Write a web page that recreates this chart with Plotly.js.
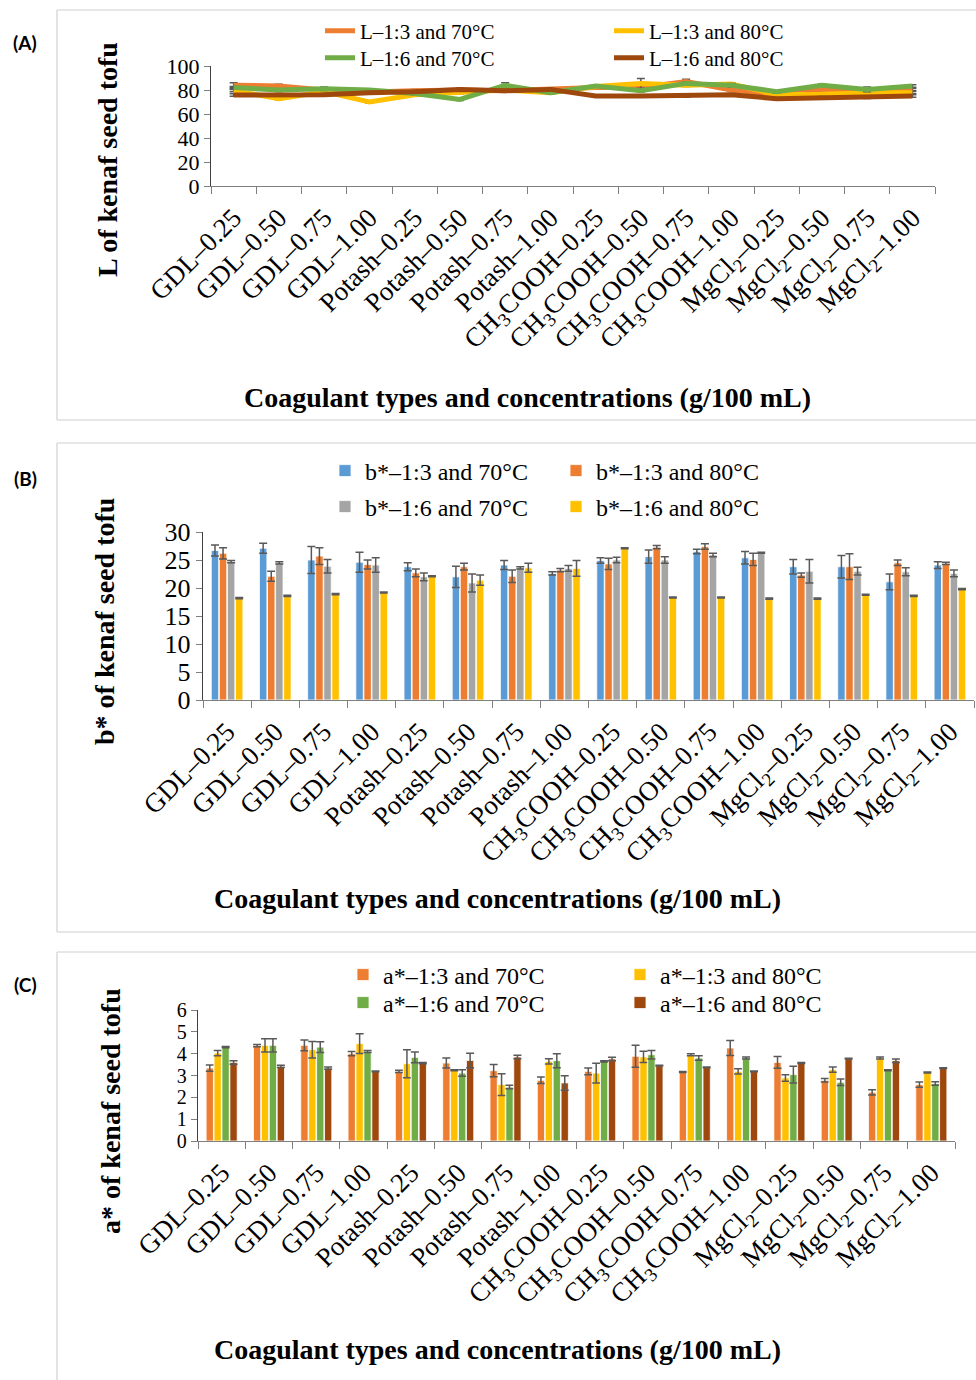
<!DOCTYPE html>
<html>
<head>
<meta charset="utf-8">
<script src="https://cdn.plot.ly/plotly-3.0.1.min.js"></script>
<style>
  html, body { margin: 0; padding: 0; background: #fff; }
  #chart { width: 976px; height: 1380px; }
</style>
</head>
<body>
<div id="chart"></div>
<script>
// Coagulant types and concentrations (g/100 mL)
const categories = [
  'GDL–0.25', 'GDL–0.50', 'GDL–0.75', 'GDL–1.00',
  'Potash–0.25', 'Potash–0.50', 'Potash–0.75', 'Potash–1.00',
  'CH<sub>3</sub>COOH–0.25', 'CH<sub>3</sub>COOH–0.50', 'CH<sub>3</sub>COOH–0.75', 'CH<sub>3</sub>COOH–1.00',
  'MgCl<sub>2</sub>–0.25', 'MgCl<sub>2</sub>–0.50', 'MgCl<sub>2</sub>–0.75', 'MgCl<sub>2</sub>–1.00'
];

// (A) L values
const L_13_70 = [84.0, 83.3, 80.0, 78.4, 79.4, 80.0, 79.4, 80.5, 82.0, 82.0, 87.0, 80.0, 76.0, 80.0, 78.6, 80.5];
const L_13_80 = [79.5, 72.8, 78.6, 70.0, 76.0, 77.8, 80.0, 77.8, 83.0, 85.5, 84.0, 85.0, 76.0, 76.4, 77.8, 77.8];
const L_16_70 = [82.0, 80.0, 81.0, 80.0, 77.0, 72.2, 84.0, 77.8, 83.3, 79.4, 85.5, 84.0, 78.6, 84.0, 80.5, 83.3];
const L_16_80 = [75.8, 76.0, 76.0, 77.8, 78.6, 80.5, 79.4, 80.5, 75.0, 75.0, 75.0, 76.0, 72.8, 73.6, 74.0, 75.0];
const L_13_70_err = [2.0, 1.5, 1.0, 1.0, 1.0, 1.0, 1.0, 1.0, 1.0, 1.0, 2.0, 1.0, 1.0, 1.0, 1.0, 1.0];
const L_13_80_err = [1.0, 1.0, 1.0, 1.0, 1.0, 1.0, 1.0, 1.0, 1.0, 4.0, 1.0, 1.0, 1.0, 1.0, 1.0, 1.0];
const L_16_70_err = [1.0, 1.0, 1.5, 1.0, 1.0, 1.0, 2.0, 1.0, 1.0, 1.0, 1.0, 1.5, 1.0, 1.0, 2.0, 1.0];
const L_16_80_err = [1.0, 1.0, 1.0, 1.0, 1.0, 1.0, 1.0, 1.0, 1.0, 1.0, 1.0, 1.0, 1.0, 1.0, 1.0, 1.0];

// (B) b* values
const B_13_70 = [26.7, 27.1, 25.0, 24.6, 23.8, 22.0, 24.1, 22.6, 24.9, 25.6, 26.5, 25.4, 23.8, 23.8, 21.1, 24.1];
const B_13_80 = [26.2, 22.1, 25.7, 24.2, 22.7, 23.8, 22.1, 23.2, 24.3, 27.3, 27.4, 25.1, 22.3, 23.8, 24.5, 24.4];
const B_16_70 = [24.7, 24.5, 23.9, 24.1, 22.0, 20.9, 23.6, 23.5, 25.0, 25.0, 25.9, 26.3, 23.0, 23.0, 22.9, 22.6];
const B_16_80 = [18.2, 18.6, 18.9, 19.2, 22.1, 21.4, 23.6, 23.5, 27.1, 18.3, 18.3, 18.1, 18.1, 18.8, 18.6, 19.8];
const B_13_70_err = [1.0, 0.9, 2.4, 1.8, 0.7, 1.9, 0.8, 0.3, 0.5, 1.2, 0.4, 1.1, 1.3, 2.0, 1.4, 0.6];
const B_13_80_err = [1.0, 0.9, 1.5, 0.8, 0.7, 0.6, 1.1, 0.3, 1.0, 0.3, 0.5, 1.1, 0.4, 2.3, 0.5, 0.2];
const B_16_70_err = [0.2, 0.2, 1.2, 1.3, 0.7, 1.6, 0.2, 0.5, 0.5, 0.6, 0.3, 0.1, 2.1, 0.7, 0.7, 0.6];
const B_16_80_err = [0.1, 0.1, 0.1, 0.1, 0.1, 0.9, 0.8, 1.4, 0.1, 0.1, 0.1, 0.1, 0.1, 0.1, 0.1, 0.1];

// (C) a* values
const A_13_70 = [3.34, 4.37, 4.38, 4.00, 3.19, 3.57, 3.22, 2.78, 3.19, 3.88, 3.16, 4.26, 3.60, 2.78, 2.23, 2.58];
const A_13_80 = [4.03, 4.38, 4.18, 4.46, 3.54, 3.24, 2.58, 3.65, 3.11, 3.85, 3.95, 3.19, 2.89, 3.27, 3.80, 3.14];
const A_16_70 = [4.30, 4.38, 4.30, 4.10, 3.83, 3.11, 2.47, 3.68, 3.65, 3.95, 3.80, 3.80, 3.04, 2.69, 3.24, 2.63];
const A_16_80 = [3.60, 3.42, 3.34, 3.19, 3.57, 3.69, 3.85, 2.66, 3.76, 3.45, 3.37, 3.19, 3.57, 3.77, 3.68, 3.34];
const A_13_70_err = [0.14, 0.05, 0.25, 0.10, 0.05, 0.23, 0.28, 0.15, 0.15, 0.50, 0.02, 0.34, 0.27, 0.08, 0.12, 0.12];
const A_13_80_err = [0.12, 0.30, 0.38, 0.45, 0.64, 0.02, 0.50, 0.12, 0.45, 0.26, 0.05, 0.12, 0.15, 0.12, 0.05, 0.02];
const A_16_70_err = [0.03, 0.30, 0.25, 0.05, 0.25, 0.15, 0.08, 0.32, 0.03, 0.20, 0.10, 0.05, 0.38, 0.15, 0.02, 0.08];
const A_16_80_err = [0.08, 0.05, 0.05, 0.02, 0.03, 0.33, 0.08, 0.33, 0.08, 0.02, 0.02, 0.02, 0.02, 0.02, 0.08, 0.02];

// Office palette
const C_BLUE = '#5B9BD5', C_ORANGE = '#ED7D31', C_GRAY = '#A5A5A5',
      C_YELLOW = '#FFC000', C_GREEN = '#70AD47', C_BROWN = '#9E480E';

const W = 976, H = 1380;
const px = v => v / W;          // pixel -> paper x
const py = v => 1 - v / H;      // pixel -> paper y

const SERIF = '"Liberation Serif", "Times New Roman", serif';
const ERR_COLOR = '#595959';

function errSpec(arr) {
  return { type: 'data', array: arr, visible: true, color: ERR_COLOR, thickness: 1.5, width: 4 };
}

function lineTrace(name, y, err, color, legend) {
  return {
    type: 'scatter', mode: 'lines', name: name, x: categories, y: y,
    line: { color: color, width: 5 },
    error_y: errSpec(err),
    xaxis: 'x', yaxis: 'y', legend: legend
  };
}

function barTrace(name, y, err, color, ax, legend) {
  return {
    type: 'bar', name: name, x: categories, y: y,
    marker: { color: color, line: { color: '#ffffff', width: 0.8 } },
    error_y: errSpec(err),
    xaxis: 'x' + ax, yaxis: 'y' + ax, legend: legend
  };
}

const data = [
  lineTrace('L–1:3 and 70°C', L_13_70, L_13_70_err, C_ORANGE, 'legend'),
  lineTrace('L–1:3 and 80°C', L_13_80, L_13_80_err, C_YELLOW, 'legend'),
  lineTrace('L–1:6 and 70°C', L_16_70, L_16_70_err, C_GREEN, 'legend2'),
  lineTrace('L–1:6 and 80°C', L_16_80, L_16_80_err, C_BROWN, 'legend2'),

  barTrace('b*–1:3 and 70°C', B_13_70, B_13_70_err, C_BLUE, '2', 'legend3'),
  barTrace('b*–1:3 and 80°C', B_13_80, B_13_80_err, C_ORANGE, '2', 'legend3'),
  barTrace('b*–1:6 and 70°C', B_16_70, B_16_70_err, C_GRAY, '2', 'legend4'),
  barTrace('b*–1:6 and 80°C', B_16_80, B_16_80_err, C_YELLOW, '2', 'legend4'),

  barTrace('a*–1:3 and 70°C', A_13_70, A_13_70_err, C_ORANGE, '3', 'legend5'),
  barTrace('a*–1:3 and 80°C', A_13_80, A_13_80_err, C_YELLOW, '3', 'legend5'),
  barTrace('a*–1:6 and 70°C', A_16_70, A_16_70_err, C_GREEN, '3', 'legend6'),
  barTrace('a*–1:6 and 80°C', A_16_80, A_16_80_err, C_BROWN, '3', 'legend6')
];

function xAxis(domain, anchor) {
  return {
    domain: domain, anchor: anchor, type: 'category',
    showline: true, linecolor: '#7f7f7f', linewidth: 1.2,
    ticks: 'outside', tickson: 'boundaries', ticklen: 7, tickcolor: '#7f7f7f',
    tickangle: -45, ticklabelstandoff: 4,
    tickfont: { family: SERIF, size: 27, color: '#000' },
    showgrid: false, zeroline: false,
    range: [-0.5, 15.5], fixedrange: true
  };
}
function yAxis(domain, anchor, range, dtick, fontSize) {
  return {
    domain: domain, anchor: anchor, range: range, dtick: dtick, tick0: 0,
    showline: true, linecolor: '#404040', linewidth: 1.2,
    ticks: 'outside', ticklen: 6, tickcolor: '#7f7f7f',
    tickfont: { family: SERIF, size: fontSize, color: '#000' },
    showgrid: false, zeroline: false, fixedrange: true
  };
}

function legendAt(xPx, yPx, entry, fontSize) {
  return {
    orientation: 'h', x: px(xPx), y: py(yPx), xanchor: 'left', yanchor: 'middle',
    xref: 'paper', yref: 'paper',
    bgcolor: 'rgba(0,0,0,0)', borderwidth: 0,
    font: { family: SERIF, size: fontSize, color: '#000' },
    entrywidth: entry, entrywidthmode: 'pixels', itemclick: false
  };
}

function frameShapes(top, bottom) {
  const s = [
    { type: 'line', xref: 'paper', yref: 'paper', x0: px(57), x1: 1, y0: py(top), y1: py(top),
      line: { color: '#d0d0d0', width: 1.2 } },
    { type: 'line', xref: 'paper', yref: 'paper', x0: px(57), x1: px(57), y0: py(top), y1: py(bottom),
      line: { color: '#d0d0d0', width: 1.2 } }
  ];
  if (bottom < H) {
    s.push({ type: 'line', xref: 'paper', yref: 'paper', x0: px(57), x1: 1, y0: py(bottom), y1: py(bottom),
      line: { color: '#d0d0d0', width: 1.2 } });
  }
  return s;
}

function note(text, xPx, yPx, opts) {
  return Object.assign({
    text: text, xref: 'paper', yref: 'paper', x: px(xPx), y: py(yPx),
    xanchor: 'center', yanchor: 'middle', showarrow: false
  }, opts);
}

const titleFont = { family: SERIF, size: 28, color: '#000' };
const panelFont = { family: 'Lato, "Open Sans", sans-serif', size: 19, color: '#000' };

const layout = {
  width: W, height: H,
  margin: { l: 0, r: 0, t: 0, b: 0 },
  font: { family: SERIF, size: 24, color: '#000' },
  paper_bgcolor: '#fff', plot_bgcolor: 'rgba(0,0,0,0)',
  barmode: 'group', bargap: 0.33, bargroupgap: 0.08,
  showlegend: true,

  xaxis: xAxis([px(211), px(935)], 'y'),
  yaxis: yAxis([py(186), py(66)], 'x', [0, 100], 20, 22),
  xaxis2: xAxis([px(203), px(974)], 'y2'),
  yaxis2: yAxis([py(700), py(532)], 'x2', [0, 30], 5, 26),
  xaxis3: xAxis([px(198), px(955)], 'y3'),
  yaxis3: yAxis([py(1141), py(1010)], 'x3', [0, 6], 1, 20),

  legend: legendAt(320, 31, 244, 21),
  legend2: legendAt(320, 58, 244, 21),
  legend3: legendAt(325, 471, 186, 24),
  legend4: legendAt(325, 507, 186, 24),
  legend5: legendAt(343, 975, 232, 24),
  legend6: legendAt(343, 1003, 232, 24),

  shapes: [].concat(frameShapes(10, 420), frameShapes(443, 932), frameShapes(952, H + 10)),

  annotations: [
    note('<b>(A)</b>', 25, 42, { font: panelFont }),
    note('<b>(B)</b>', 25, 478, { font: panelFont }),
    note('<b>(C)</b>', 25, 985, { font: panelFont }),

    note('<b>L of kenaf seed tofu</b>', 108, 160, { textangle: -90, font: titleFont }),
    note('<b>b* of kenaf seed tofu</b>', 104, 622, { textangle: -90, font: titleFont }),
    note('<b>a* of kenaf seed tofu</b>', 110, 1111, { textangle: -90, font: titleFont }),

    note('<b>Coagulant types and concentrations (g/100 mL)</b>', 527, 397, { font: titleFont }),
    note('<b>Coagulant types and concentrations (g/100 mL)</b>', 497, 898, { font: titleFont }),
    note('<b>Coagulant types and concentrations (g/100 mL)</b>', 497, 1349, { font: titleFont })
  ]
};

Plotly.newPlot('chart', data, layout, { staticPlot: true, displayModeBar: false });
</script>
</body>
</html>
